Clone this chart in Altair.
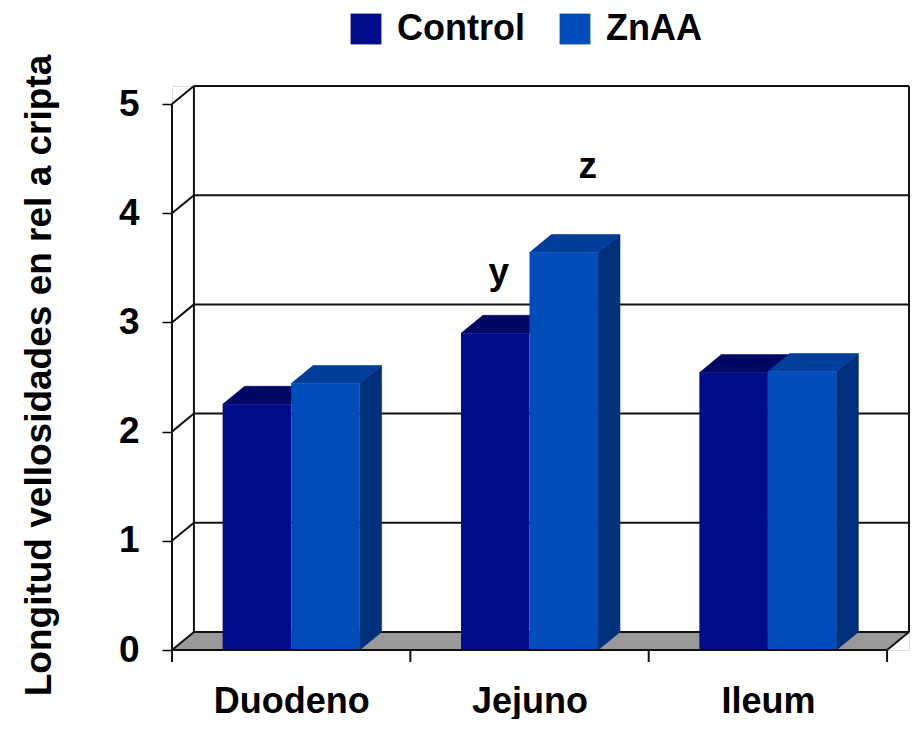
import altair as alt
import pandas as pd

# ---- data ----
categories = ["Duodeno", "Jejuno", "Ileum"]
series = ["Control", "ZnAA"]
control = [2.25, 2.90, 2.54]
znaa = [2.44, 3.64, 2.55]
y_ticks = [0, 1, 2, 3, 4, 5]
annot_text = ["y", "z"]
annot_x = [1.371, 1.744]   # in category units (band i spans i..i+1)
annot_y = [3.355, 4.32]

# ---- 3D geometry (in data units) ----
DX = 0.092     # depth offset along x
DY = 0.165     # depth offset along y
X0 = 0.2125    # bar start inside band
W = 0.2875     # bar width
NCAT = len(categories)
YTOP = max(y_ticks)

color_domain = ["Control", "ZnAA", "Control_top", "ZnAA_top", "ZnAA_side"]
color_range = ["#000C8C", "#004CBA", "#000866", "#003E9C", "#00307C"]
FONT = "Liberation Sans"

legend = alt.Legend(
    values=series, orient="none", legendX=176, legendY=-75, direction="horizontal",
    symbolType="square", symbolSize=950, symbolStrokeWidth=0, symbolOpacity=1,
    labelFont=FONT, labelFontSize=36, labelFontWeight="bold", labelColor="black",
    labelOffset=13, columnPadding=32, title=None,
)
cscale = alt.Scale(domain=color_domain, range=color_range)
xscale = alt.Scale(domain=[0, NCAT + DX], nice=False, zero=False)
yscale = alt.Scale(domain=[0, YTOP + DY], nice=False, zero=False)

label_expr = " : ".join(
    [f"datum.value < {i + 1} ? '{c}'" for i, c in enumerate(categories[:-1])] + [f"'{categories[-1]}'"]
)
xaxis = alt.Axis(values=[i + 0.5 for i in range(NCAT)], labelExpr=label_expr, ticks=False,
                 domain=False, grid=False, title=None, labelFont=FONT, labelFontSize=36,
                 labelFontWeight="bold", labelColor="black", labelBaseline="alphabetic",
                 labelPadding=62)
yaxis = alt.Axis(values=y_ticks, tickSize=10, tickColor="black", tickWidth=1.5, domain=False,
                 grid=False, labelFont=FONT, labelFontSize=37, labelFontWeight="bold",
                 labelColor="black", labelPadding=23, labelBaseline="middle",
                 title="Longitud vellosidades en rel a cripta", titleFont=FONT,
                 titleFontSize=37, titleFontWeight="bold", titleColor="black",
                 titleAngle=270, titleAlign="center", titleBaseline="alphabetic",
                 titleX=-122, titleY=289)


def X(f):
    return alt.X(f, type="quantitative", scale=xscale, axis=xaxis)


def Y(f):
    return alt.Y(f, type="quantitative", scale=yscale, axis=yaxis)


def C():
    return alt.Color("key:N", scale=cscale, legend=legend)


# ---- build geometry tables from the values ----
fronts, tops_c, tops_z, sides_z = [], [], [], []
for i, cat in enumerate(categories):
    for j, (name, vals) in enumerate(zip(series, [control, znaa])):
        v = vals[i]
        x0 = i + X0 + j * W
        x1 = x0 + W
        fronts.append({"x": x0, "x2": x1, "y": 0, "y2": v, "key": name, "s": name})
        pid = f"{cat}-{name}"
        top = [(x0, v, v), (x0 + DX, v, v + DY), (x1, v, v + DY), (x1 + DX, v + DY, v + DY)]
        target = tops_c if name == "Control" else tops_z
        for (px, py, py2) in top:
            target.append({"pid": pid, "x": px, "y": py, "y2": py2, "key": f"{name}_top"})
        if name == "ZnAA":
            for (px, py, py2) in [(x1, 0, v), (x1 + DX, DY, v + DY)]:
                sides_z.append({"pid": pid, "x": px, "y": py, "y2": py2, "key": "ZnAA_side"})

floor = pd.DataFrame([
    {"x": 0, "y": 0, "y2": 0}, {"x": DX, "y": 0, "y2": DY},
    {"x": NCAT, "y": 0, "y2": DY}, {"x": NCAT + DX, "y": DY, "y2": DY},
])

back_rules = [{"x": DX, "x2": DX, "y": DY, "y2": YTOP + DY},
              {"x": NCAT + DX, "x2": NCAT + DX, "y": DY, "y2": YTOP + DY},
              {"x": NCAT, "x2": NCAT + DX, "y": 0, "y2": DY}]
for k in y_ticks:
    back_rules.append({"x": 0, "x2": DX, "y": k, "y2": k + DY})
    back_rules.append({"x": DX, "x2": NCAT + DX, "y": k + DY, "y2": k + DY})
front_rules = [{"x": 0, "x2": 0, "y": 0, "y2": YTOP},
               {"x": 0, "x2": NCAT, "y": 0, "y2": 0}]
for k in range(NCAT + 1):
    front_rules.append({"x": k, "x2": k, "y": -0.11, "y2": 0})

fronts = pd.DataFrame(fronts)
annots = pd.DataFrame({"x": annot_x, "y": annot_y, "t": annot_text})

floor_layer = alt.Chart(floor).mark_area(color="#999999").encode(x=X("x"), y=Y("y"), y2="y2")
back_layer = alt.Chart(pd.DataFrame(back_rules)).mark_rule(color="#111111", strokeWidth=2).encode(
    x=X("x"), x2="x2", y=Y("y"), y2="y2")


def area_layer(rows):
    return alt.Chart(pd.DataFrame(rows)).mark_area(strokeWidth=0.6).encode(
        x=X("x"), y=Y("y"), y2="y2", color=C(), stroke=C(), detail="pid:N")


def front_layer(name):
    return alt.Chart(fronts[fronts["s"] == name]).mark_rect().encode(
        x=X("x"), x2="x2", y=Y("y"), y2="y2", color=C())


front_line_layer = alt.Chart(pd.DataFrame(front_rules)).mark_rule(color="#111111", strokeWidth=2).encode(
    x=X("x"), x2="x2", y=Y("y"), y2="y2")
text_layer = alt.Chart(annots).mark_text(font=FONT, fontSize=37, fontWeight="bold", color="black",
                                          baseline="alphabetic", align="center").encode(
    x=X("x"), y=Y("y"), text="t:N")

chart = alt.layer(
    floor_layer, back_layer,
    area_layer(tops_c), front_layer("Control"),
    area_layer(sides_z), area_layer(tops_z), front_layer("ZnAA"),
    front_line_layer, text_layer,
).properties(
    width=737, height=564,
    autosize=alt.AutoSizeParams(type="none"),
    padding={"left": 164, "top": 78, "right": 1, "bottom": 69},
).configure_view(stroke=None).configure(background="white")

chart.save("out.html", embed_options={"renderer": "svg", "actions": False})
